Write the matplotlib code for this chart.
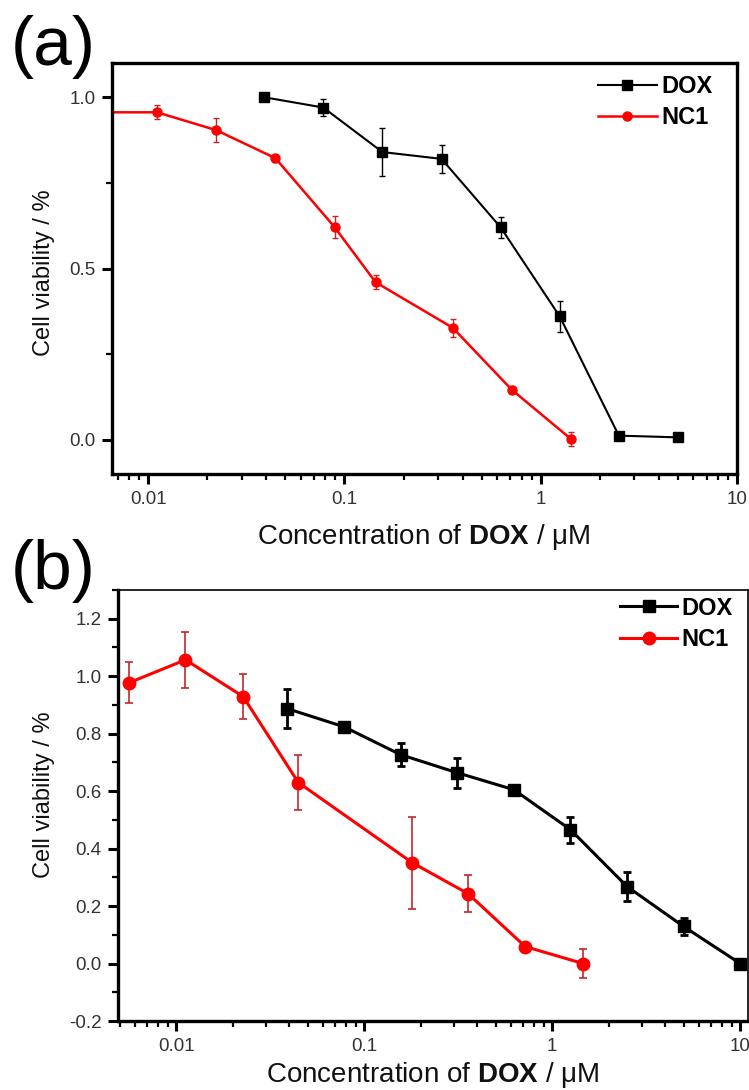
import numpy as np
import matplotlib
matplotlib.use("Agg")
import matplotlib.pyplot as plt
from matplotlib.ticker import LogLocator, FixedLocator, MultipleLocator, FuncFormatter

plt.rcParams['font.family'] = ['Liberation Sans', 'DejaVu Sans']
plt.rcParams['mathtext.fontset'] = 'custom'
plt.rcParams['mathtext.rm'] = 'Liberation Sans'
plt.rcParams['mathtext.bf'] = 'Liberation Sans:bold'

# panel (a) data
a_dox_x = [0.039, 0.078, 0.156, 0.3125, 0.625, 1.25, 2.5, 5.0]
a_dox_y = [1.0, 0.97, 0.84, 0.82, 0.62, 0.36, 0.012, 0.007]
a_dox_err = [0.0, 0.025, 0.07, 0.04, 0.03, 0.045, 0.01, 0.0]

a_nc1_x = [0.0055, 0.0111, 0.0222, 0.0445, 0.089, 0.144, 0.356, 0.712, 1.42]
a_nc1_y = [0.956, 0.956, 0.904, 0.822, 0.621, 0.46, 0.327, 0.146, 0.003]
a_nc1_err = [0.0, 0.02, 0.036, 0.01, 0.033, 0.02, 0.026, 0.01, 0.02]

# panel (b) data
b_dox_x = [0.039, 0.078, 0.156, 0.3125, 0.625, 1.25, 2.5, 5.0, 10.0]
b_dox_y = [0.887, 0.824, 0.727, 0.664, 0.605, 0.466, 0.268, 0.129, 0.0]
b_dox_err = [0.069, 0.015, 0.04, 0.052, 0.015, 0.045, 0.049, 0.03, 0.01]

b_nc1_x = [0.0056, 0.0112, 0.0227, 0.0446, 0.18, 0.357, 0.718, 1.46]
b_nc1_y = [0.977, 1.057, 0.929, 0.63, 0.351, 0.243, 0.059, 0.0]
b_nc1_err = [0.071, 0.098, 0.077, 0.095, 0.16, 0.064, 0.01, 0.05]

W, H = 749, 1090
fig = plt.figure(figsize=(W/100, H/100), dpi=100)

def px_axes(l, t, r, b):
    return fig.add_axes([l/W, 1-b/H, (r-l)/W, (b-t)/H])

tickcol = '#333333'
xlab = 'Concentration of $\\mathbf{DOX}$ / \u03bcM'
ylab = 'Cell viability / %'

def style(ax, thick_all):
    ax.set_xscale('log')
    ax.xaxis.set_major_locator(FixedLocator([0.01, 0.1, 1, 10]))
    ax.xaxis.set_minor_locator(LogLocator(base=10, subs=np.arange(2, 10)))
    ax.xaxis.set_major_formatter(FuncFormatter(lambda v, p: '%g' % v))
    ax.tick_params(which='major', direction='out', length=7, width=2.2,
                   labelsize=13.5, labelcolor=tickcol, pad=5)
    ax.tick_params(which='minor', direction='out', length=4, width=1.6)
    for s in ['left', 'bottom']:
        ax.spines[s].set_linewidth(2.4)
    for s in ['top', 'right']:
        ax.spines[s].set_linewidth(2.4 if thick_all else 1.2)
    ax.set_xlabel(xlab, fontsize=20, color='#111111')
    ax.set_ylabel(ylab, fontsize=17, color='#111111')

# ---- panel (a)
ax1 = px_axes(112, 63, 737, 474)
ax1.errorbar(a_dox_x, a_dox_y, yerr=a_dox_err, color='black', lw=1.5,
             marker='s', ms=6.5, ecolor='black', elinewidth=1, capsize=2.5,
             capthick=1, label='DOX')
ax1.errorbar(a_nc1_x, a_nc1_y, yerr=a_nc1_err, color='red', lw=1.8,
             marker='o', ms=6.5, ecolor='#c0282d', elinewidth=1, capsize=2.5,
             capthick=1, label='NC1')
ax1.set_xlim(0.00654, 10)
ax1.set_ylim(-0.1, 1.1)
ax1.yaxis.set_major_locator(FixedLocator([0.0, 0.5, 1.0]))
ax1.yaxis.set_minor_locator(FixedLocator([0.25, 0.75]))
ax1.yaxis.set_major_formatter(FuncFormatter(lambda v, p: '%.1f' % v))
style(ax1, True)
ax1.xaxis.set_label_coords(0.499, -0.117)
ax1.yaxis.set_label_coords(-0.091, 0.489)
h, l = ax1.get_legend_handles_labels()
ax1.legend([x[0] for x in h], l, loc='upper right', bbox_to_anchor=(0.98, 1.0),
           frameon=False, borderpad=0, handlelength=2.5, handletextpad=0.2,
           labelspacing=0.35, prop={'weight': 'bold', 'size': 17})

# ---- panel (b)
ax2 = px_axes(118, 590, 748, 1021)
ax2.errorbar(b_dox_x, b_dox_y, yerr=b_dox_err, color='black', lw=2.2,
             marker='s', ms=9, ecolor='black', elinewidth=2, capsize=3,
             capthick=2, label='DOX')
ax2.errorbar(b_nc1_x, b_nc1_y, yerr=b_nc1_err, color='red', lw=2.2,
             marker='o', ms=9, ecolor='#c0282d', elinewidth=1.2, capsize=3,
             capthick=1.2, label='NC1')
ax2.set_xlim(0.0049, 11.0)
ax2.set_ylim(-0.2, 1.3)
ax2.yaxis.set_major_locator(FixedLocator([-0.2, 0.0, 0.2, 0.4, 0.6, 0.8, 1.0, 1.2]))
ax2.yaxis.set_minor_locator(MultipleLocator(0.1))
ax2.yaxis.set_major_formatter(FuncFormatter(lambda v, p: '%.1f' % v))
style(ax2, False)
ax2.xaxis.set_label_coords(0.5, -0.09)
ax2.yaxis.set_label_coords(-0.1, 0.524)
h, l = ax2.get_legend_handles_labels()
ax2.legend([x[0] for x in h], l, loc='upper right', bbox_to_anchor=(0.995, 1.012),
           frameon=False, borderpad=0, handlelength=2.4, handletextpad=0.2,
           labelspacing=0.35, prop={'weight': 'bold', 'size': 17})

fig.text(11/W, 1 - 15/H, '(a)', fontsize=50, va='top', ha='left')
fig.text(11/W, 1 - 539/H, '(b)', fontsize=50, va='top', ha='left')

fig.savefig('out.png', dpi=100)
